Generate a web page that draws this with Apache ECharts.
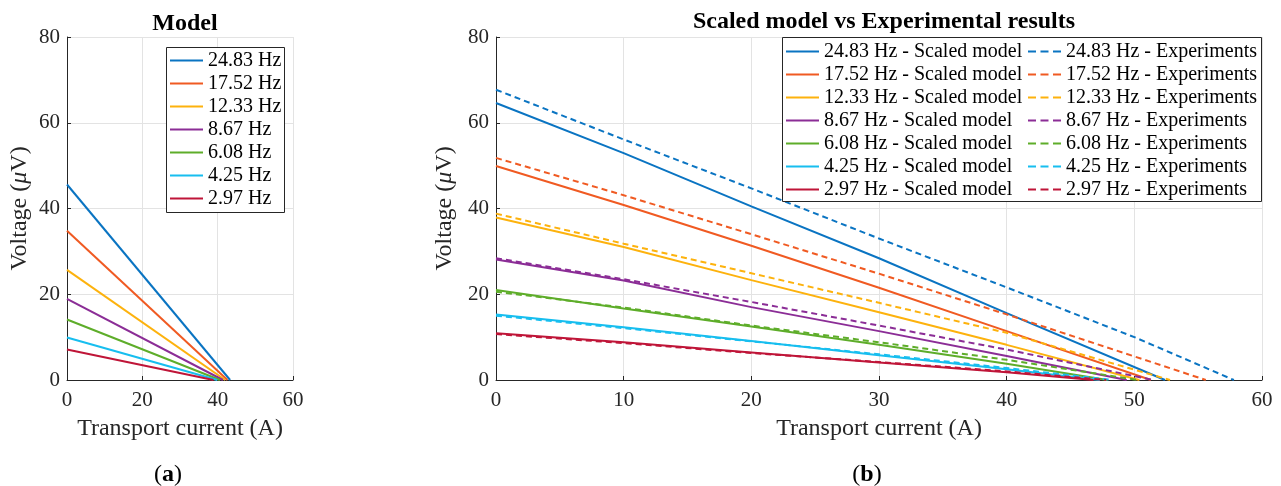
<!DOCTYPE html>
<html>
<head>
<meta charset="utf-8">
<script src="https://cdn.jsdelivr.net/npm/echarts@6/dist/echarts.min.js"></script>
<style>html,body{margin:0;padding:0;background:#fff;}#c{width:1281px;height:486px;}</style>
</head>
<body>
<div id="c"></div>
<script>
// ---- data ----
const freqs = ['24.83 Hz', '17.52 Hz', '12.33 Hz', '8.67 Hz', '6.08 Hz', '4.25 Hz', '2.97 Hz'];
const colors = ['#0A74C2', '#F05A22', '#FDB20D', '#8B2D96', '#5EAD2A', '#17BEEF', '#BF1538'];

// Panel (a): model lines [current, voltage]
const model_2483 = [[0, 45.6], [43.3, 0]];
const model_1752 = [[0, 34.8], [42.6, 0]];
const model_1233 = [[0, 25.7], [42.0, 0]];
const model_867  = [[0, 18.9], [41.4, 0]];
const model_608  = [[0, 14.1], [40.6, 0]];
const model_425  = [[0, 9.9],  [39.9, 0]];
const model_297  = [[0, 7.1],  [38.9, 0]];

// Panel (b): scaled model
const scaled_2483 = [[0, 64.6], [10, 52.9], [20, 40.5], [30, 28.4], [40, 15.6], [52.4, 0]];
const scaled_1752 = [[0, 49.9], [10, 40.8], [20, 31.3], [30, 21.5], [40, 11.4], [51.3, 0]];
const scaled_1233 = [[0, 37.9], [10, 31.0], [20, 23.3], [30, 15.8], [40, 8.2], [50.4, 0]];
const scaled_867  = [[0, 28.1], [10, 23.2], [20, 17.0], [30, 11.4], [40, 5.6], [49.4, 0]];
const scaled_608  = [[0, 21.0], [10, 16.7], [20, 12.5], [30, 8.2], [40, 3.8], [47.9, 0]];
const scaled_425  = [[0, 15.3], [10, 12.3], [20, 9.1], [30, 5.8], [40, 2.5], [47.3, 0]];
const scaled_297  = [[0, 10.9], [10, 8.8], [20, 6.4], [30, 4.1], [40, 1.8], [46.8, 0]];

// Panel (b): experiments
const exp_2483 = [[0, 67.7], [10, 56.1], [20, 44.7], [30, 33.0], [40, 21.6], [50, 10.0], [57.8, 0]];
const exp_1752 = [[0, 51.8], [10, 43.1], [20, 34.0], [30, 24.8], [40, 15.3], [55.6, 0]];
const exp_1233 = [[0, 38.8], [10, 31.8], [20, 24.9], [30, 18.0], [40, 11.0], [52.8, 0]];
const exp_867  = [[0, 28.4], [10, 23.5], [20, 18.2], [30, 12.7], [40, 7.1], [51.5, 0]];
const exp_608  = [[0, 20.6], [10, 16.9], [20, 12.7], [30, 8.8], [40, 4.7], [50.3, 0]];
const exp_425  = [[0, 15.0], [10, 12.1], [20, 9.0], [30, 6.0], [40, 2.8], [48.3, 0]];
const exp_297  = [[0, 10.7], [10, 8.6], [20, 6.3], [30, 4.2], [40, 2.0], [47.8, 0]];

const xTicksA = [0, 20, 40, 60];
const xTicksB = [0, 10, 20, 30, 40, 50, 60];
const yTicks = [0, 20, 40, 60, 80];

const modelData = [model_2483, model_1752, model_1233, model_867, model_608, model_425, model_297];
const scaledData = [scaled_2483, scaled_1752, scaled_1233, scaled_867, scaled_608, scaled_425, scaled_297];
const expData = [exp_2483, exp_1752, exp_1233, exp_867, exp_608, exp_425, exp_297];

// ---- chart ----
const FONT = '"Liberation Serif", "Times New Roman", serif';
const AX = '#262626';
const chart = echarts.init(document.getElementById('c'), null, {renderer: 'canvas'});

function xAxisCfg(idx, ticks) {
  return {
    type: 'value', gridIndex: idx, min: ticks[0], max: ticks[ticks.length - 1],
    interval: ticks[1] - ticks[0],
    name: 'Transport current (A)', nameLocation: 'middle', nameGap: 37,
    nameTextStyle: {fontFamily: FONT, fontSize: 24, color: AX},
    axisLine: {show: true, lineStyle: {color: AX, width: 1}},
    axisTick: {show: true, inside: true, length: 4, lineStyle: {color: AX}},
    axisLabel: {fontFamily: FONT, fontSize: 21, color: AX, margin: 10},
    splitLine: {show: true, lineStyle: {color: '#E3E3E3', width: 1}}
  };
}
function yAxisCfg(idx) {
  return {
    type: 'value', gridIndex: idx, min: yTicks[0], max: yTicks[yTicks.length - 1],
    interval: yTicks[1] - yTicks[0],
    name: 'Voltage ({i|μ}V)', nameLocation: 'middle', nameGap: 35, nameRotate: 90,
    nameTextStyle: {fontFamily: FONT, fontSize: 24, color: AX,
      rich: {i: {fontFamily: FONT, fontSize: 24, fontStyle: 'italic', color: AX}}},
    axisLine: {show: true, lineStyle: {color: AX, width: 1}},
    axisTick: {show: true, inside: true, length: 4, lineStyle: {color: AX}},
    axisLabel: {fontFamily: FONT, fontSize: 21, color: AX, margin: 7},
    splitLine: {show: true, lineStyle: {color: '#E3E3E3', width: 1}}
  };
}

const series = [];
freqs.forEach((f, i) => {
  series.push({name: f, type: 'line', xAxisIndex: 0, yAxisIndex: 0, data: modelData[i],
    symbol: 'none', showSymbol: false, color: colors[i], lineStyle: {width: 2, color: colors[i]}, z: 2, animation: false});
});
freqs.forEach((f, i) => {
  series.push({name: f + ' - Scaled model', type: 'line', xAxisIndex: 1, yAxisIndex: 1, data: scaledData[i],
    symbol: 'none', showSymbol: false, color: colors[i], lineStyle: {width: 2, color: colors[i]}, z: 2, animation: false});
});
freqs.forEach((f, i) => {
  series.push({name: f + ' - Experiments', type: 'line', xAxisIndex: 1, yAxisIndex: 1, data: expData[i],
    symbol: 'none', showSymbol: false, color: colors[i], lineStyle: {width: 2, color: colors[i], type: [6, 4]}, z: 2, animation: false});
});

const SOLID_ICON = 'path://M0,0H33V2H0Z';
const DASH_ICON = 'path://M0,0H8V2H0Z M12.5,0H20.5V2H12.5Z M25,0H33V2H25Z';
const legendText = {fontFamily: FONT, fontSize: 20, color: '#000', lineHeight: 23};
function legendCfg(left, top, names, icon) {
  return {show: true, orient: 'vertical', left: left, top: top,
    data: names.map(n => ({name: n, icon: icon})),
    itemWidth: 33, itemHeight: 2, itemGap: 0, padding: 0,
    textStyle: legendText, selectedMode: false, z: 6};
}

chart.setOption({
  backgroundColor: '#fff',
  animation: false,
  title: [
    {text: 'Model', left: 180, top: 7, textAlign: 'center',
      textStyle: {fontFamily: FONT, fontSize: 24, fontWeight: 'bold', color: '#000'}},
    {text: 'Scaled model vs Experimental results', left: 879, top: 5, textAlign: 'center',
      textStyle: {fontFamily: FONT, fontSize: 24, fontWeight: 'bold', color: '#000'}},
    {text: '({b|a})', left: 163, top: 458, textAlign: 'center',
      textStyle: {fontFamily: FONT, fontSize: 24, fontWeight: 'normal', color: '#000',
        rich: {b: {fontFamily: FONT, fontSize: 24, fontWeight: 'bold', color: '#000'}}}},
    {text: '({b|b})', left: 862, top: 458, textAlign: 'center',
      textStyle: {fontFamily: FONT, fontSize: 24, fontWeight: 'normal', color: '#000',
        rich: {b: {fontFamily: FONT, fontSize: 24, fontWeight: 'bold', color: '#000'}}}}
  ],
  grid: [
    {left: 67, top: 37, width: 226, height: 343, containLabel: false},
    {left: 496, top: 37, width: 766, height: 343, containLabel: false}
  ],
  xAxis: [xAxisCfg(0, xTicksA), xAxisCfg(1, xTicksB)],
  yAxis: [yAxisCfg(0), yAxisCfg(1)],
  legend: [
    legendCfg(170, 49, freqs.slice(), SOLID_ICON),
    legendCfg(786, 40, freqs.map(f => f + ' - Scaled model'), SOLID_ICON),
    legendCfg(1028, 40, freqs.map(f => f + ' - Experiments'), DASH_ICON)
  ],
  graphic: [
    {type: 'rect', z: 5, shape: {x: 166.5, y: 47.5, width: 118, height: 165},
      style: {fill: '#fff', stroke: AX, lineWidth: 1}},
    {type: 'rect', z: 5, shape: {x: 782.5, y: 37.5, width: 479, height: 164},
      style: {fill: '#fff', stroke: AX, lineWidth: 1}}
  ],
  series: series
});
</script>
</body>
</html>
